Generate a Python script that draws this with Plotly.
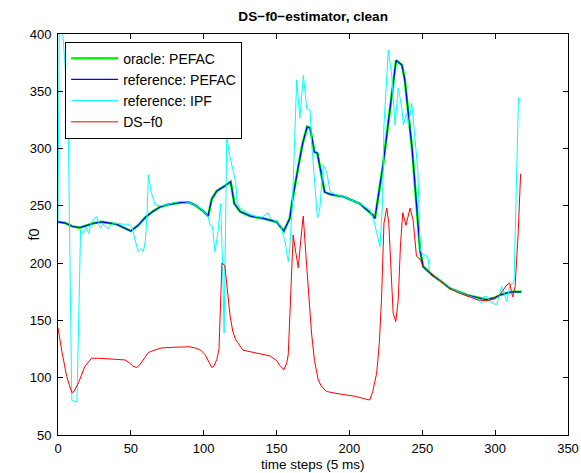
import plotly.graph_objects as go

# ---- data ----
t_oracle = [0, 5, 10, 15, 20, 25, 30, 35, 40, 45, 50, 55, 60, 65, 70, 75, 80, 85, 90, 95,
            100, 103, 105.5, 109, 114, 118.5, 121, 125, 132, 141, 150, 155, 159, 161, 165,
            168, 171, 173, 176, 178, 183, 187, 196, 207, 216, 217.5, 223, 232, 236, 238, 243,
            247, 248.5, 250.6, 257, 263, 269, 275, 281, 288, 294, 300, 303, 308, 312, 318]
f_oracle = [236, 235, 232, 231, 233, 235, 236, 235, 234, 231, 228, 233, 240, 245, 249, 251,
            252, 253, 253, 250, 245, 241, 256, 263, 267, 271, 252, 245, 241, 239, 236, 228,
            239, 256, 285, 305, 319, 318, 297, 296, 262, 260, 258, 252, 242, 239, 285, 377,
            373, 360, 300, 240, 211, 197, 189.5, 184, 178, 175, 172, 170, 168, 170, 172,
            174, 175, 175]

t_ref_pefac = list(t_oracle)
f_ref_pefac = list(f_oracle)

t_ipf = [0, 1, 5, 7, 8, 9, 9.5, 13, 14, 15.5, 17, 19.6, 21, 23, 25, 26.5, 28, 29, 31, 32,
         34.5, 36, 39, 44, 49, 50.6, 53, 55, 57, 58.6, 60, 61, 62, 64, 66.6, 70, 75, 80, 85,
         90, 95, 97.5, 103, 104.3, 106, 107.7, 110, 111.6, 113, 114, 115.8, 118, 120.3, 122,
         123, 125, 130, 135, 140, 144, 146, 150, 153, 156, 158, 159, 161, 163.8, 166, 168.4,
         170.7, 173, 174, 176.4, 178, 179.5, 182, 184.4, 186.7, 190, 196, 207, 214, 217,
         218.7, 221, 222.8, 223.7, 226.7, 229, 231.3, 233.5, 236, 237, 239.3, 240.4, 242.8,
         245, 247, 248.5, 250, 252, 254, 255, 260, 265, 270, 275, 280, 285, 288, 290.8, 292,
         294, 297, 301, 304.5, 308, 310, 313, 314.3, 316, 317.5]
f_ipf = [237, 440, 370, 325, 220, 110, 80, 79, 130, 229, 226, 231, 226, 236, 239, 240.6,
         234, 230.5, 234, 233, 230, 233, 235, 234, 234, 232, 220, 210, 213, 210, 220, 240,
         277, 262, 251, 250, 251, 253, 254, 253, 250, 248, 240.6, 233.5, 232, 210, 229, 252,
         197, 139, 310, 293, 280, 271, 252, 248, 244, 241, 240, 244, 239, 236, 232, 217.6,
         201.5, 211.5, 255, 360, 326.7, 364, 335, 333.6, 306, 268, 239.4, 245, 285.6, 280,
         262.5, 260, 258, 252, 246.5, 236, 226, 214.4, 255, 320.6, 386, 364, 320.6, 353, 335,
         320.6, 331, 320.6, 339.5, 309, 280, 211.5, 208, 207, 204.5, 192.6, 187, 182, 178,
         175, 172, 170, 168, 165, 171, 171, 166, 163.5, 179.5, 166.4, 179.5, 184, 255, 344,
         344]

t_dsf0 = [0, 2.5, 6, 9.5, 11, 14, 18.5, 23, 28, 32, 40, 46, 49, 51.5, 54, 56, 58, 60, 62, 66,
          71, 78, 85, 90, 94, 98, 101, 103, 105.5, 107, 109, 110.5, 112.5, 114.5, 116, 118, 120,
          122, 127, 136, 145.5, 150, 152, 155, 157, 158, 159.7, 161.4, 163.3, 164.9, 166.6,
          168.3, 170.7, 172, 174, 176, 178.6, 181, 184.4, 190, 198, 205, 212, 214, 216, 218.7,
          220.5, 222, 223.7, 225.6, 227, 228, 230, 231.8, 233.5, 235, 236.6, 238.8, 241.6,
          243.7, 246, 248.5, 250.6, 257, 263, 269, 275, 281, 288, 294, 300, 303, 306, 308, 310,
          312, 313.7, 315.8, 317.5]
f_dsf0 = [143.5, 124, 101, 87, 88, 95.5, 110, 117, 117, 116.5, 116, 115.5, 113, 110, 109, 111,
          115, 119, 122, 124, 126, 126.5, 127, 127, 126, 124, 120, 115, 109, 110, 116, 125, 200,
          198, 180, 155, 140, 133, 124, 121.5, 119, 115, 111, 107, 113, 120, 168, 224.6, 208.6,
          196, 220, 241, 197, 170, 139, 115, 98, 92, 88, 86.5, 85, 83.5, 81, 80.6, 88, 104, 130,
          168, 235, 248, 235, 211.5, 156.5, 149, 168, 215, 244, 233, 248, 237.6, 206, 203.6,
          197, 190, 184, 178, 174, 171, 168, 167, 169, 172, 177, 181, 182.6, 170.5, 179.5, 226,
          278]

x_ticks = [0, 50, 100, 150, 200, 250, 300, 350]
y_ticks = [50, 100, 150, 200, 250, 300, 350, 400]

FONT = "Liberation Sans, Arial, Helvetica, sans-serif"

fig = go.Figure()
fig.add_trace(go.Scatter(x=t_oracle, y=f_oracle, mode="lines", name="oracle: PEFAC",
                         line=dict(color="#00ff00", width=2.6)))
fig.add_trace(go.Scatter(x=t_ref_pefac, y=f_ref_pefac, mode="lines", name="reference: PEFAC",
                         line=dict(color="#0000ff", width=1.2)))
fig.add_trace(go.Scatter(x=t_ipf, y=f_ipf, mode="lines", name="reference: IPF",
                         line=dict(color="#00ffff", width=1)))
fig.add_trace(go.Scatter(x=t_dsf0, y=f_dsf0, mode="lines", name="DS\u2212f0",
                         line=dict(color="#ff0000", width=1)))

axis_common = dict(showline=True, linecolor="black", linewidth=1, mirror="allticks",
                   ticks="inside", ticklen=5, tickcolor="black", tickwidth=1,
                   showgrid=False, zeroline=False,
                   tickfont=dict(family=FONT, size=13, color="black"))

fig.update_layout(
    width=581, height=473,
    margin=dict(l=58, r=13, t=34, b=38, autoexpand=False),
    paper_bgcolor="white", plot_bgcolor="white",
    font=dict(family=FONT, size=13, color="black"),
    title=dict(text="<b>DS\u2212f0\u2212estimator, clean</b>", x=0.539, xanchor="center",
               y=0.966, yanchor="middle", font=dict(family=FONT, size=13.6, color="black")),
    xaxis=dict(range=[0, 350], tickvals=x_ticks, ticktext=[str(v) for v in x_ticks],
               ticklabelstandoff=1, automargin=False,
               **axis_common),
    yaxis=dict(range=[50, 400], tickvals=y_ticks, ticktext=[str(v) for v in y_ticks],
               ticklabelstandoff=3, automargin=False,
               **axis_common),
    annotations=[
        dict(text="time steps (5 ms)", xref="paper", yref="paper", x=0.5, y=-0.052,
             xanchor="center", yanchor="top", showarrow=False, borderpad=0,
             font=dict(family=FONT, size=13.5, color="black")),
        dict(text="f0", xref="paper", yref="paper", x=-0.049, y=0.5,
             xanchor="center", yanchor="middle", textangle=-90, showarrow=False,
             font=dict(family=FONT, size=14.5, color="black")),
    ],
    legend=dict(x=0.014, y=0.981, xanchor="left", yanchor="top",
                bgcolor="white", bordercolor="black", borderwidth=1,
                font=dict(family=FONT, size=14, color="black"),
                tracegroupgap=0, itemwidth=47),
    showlegend=True,
)

fig.write_html("out.html")
